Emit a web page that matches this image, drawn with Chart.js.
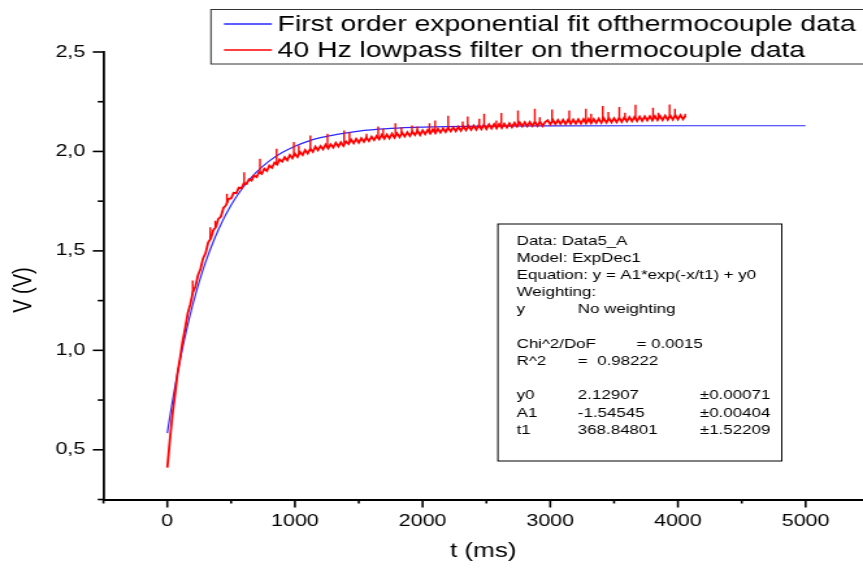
<!DOCTYPE html>
<html><head><meta charset="utf-8">
<script src="https://cdn.jsdelivr.net/npm/chart.js@4.4.1/dist/chart.umd.min.js"></script>
<style>html,body{margin:0;padding:0;background:#fff;overflow:hidden}</style></head>
<body><canvas id="c" width="664" height="569" style="display:block;width:863px;height:569px"></canvas>
<script>
// ---------- data ----------
const seriesNames = ['First order exponential fit ofthermocouple data', '40 Hz lowpass filter on thermocouple data'];
const xTitle = 't (ms)';
const yTitle = 'V (V)';

const xTickValues = [-500, 0, 500, 1000, 1500, 2000, 2500, 3000, 3500, 4000, 4500, 5000];
const xTickLabels = ['', '0', '', '1000', '', '2000', '', '3000', '', '4000', '', '5000'];
const yTickValues = [0.25, 0.5, 0.75, 1.0, 1.25, 1.5, 1.75, 2.0, 2.25, 2.5];
const yTickLabels = ['', '0,5', '', '1,0', '', '1,5', '', '2,0', '', '2,5'];

// fitted curve (blue)
const blueT = [0, 25, 50, 75, 100, 150, 200, 250, 300, 400, 500, 600, 700, 800, 900, 1000, 1100, 1200, 1500, 1750, 2000, 2500, 3000, 4000, 5000];
const blueV = [0.5836, 0.6849, 0.7795, 0.8680, 0.9506, 1.1000, 1.2305, 1.3444, 1.4439, 1.6066, 1.7306, 1.8253, 1.8975, 1.9525, 1.9944, 2.0264, 2.0508, 2.0693, 2.1026, 2.1156, 2.1222, 2.1273, 2.1286, 2.1291, 2.1291];

// filtered measurement (red), one sample every 20 ms starting at 0 ms
const redStepMs = 20;
const redV = [
0.410, 0.548, 0.675, 0.776, 0.884, 0.961, 1.045, 1.111, 1.186, 1.231,
1.291, 1.319, 1.377, 1.409, 1.462, 1.489, 1.542, 1.561, 1.604, 1.619,
1.661, 1.673, 1.716, 1.730, 1.762, 1.764, 1.792, 1.790, 1.818, 1.814,
1.840, 1.836, 1.860, 1.853, 1.879, 1.871, 1.897, 1.887, 1.913, 1.902,
1.929, 1.918, 1.944, 1.934, 1.960, 1.949, 1.971, 1.956, 1.982, 1.966,
1.989, 1.972, 1.997, 1.982, 2.007, 1.990, 2.013, 1.998, 2.024, 2.006,
2.027, 2.011, 2.034, 2.015, 2.036, 2.020, 2.043, 2.025, 2.046, 2.028,
2.050, 2.037, 2.060, 2.041, 2.063, 2.044, 2.066, 2.049, 2.070, 2.052,
2.074, 2.057, 2.078, 2.061, 2.083, 2.064, 2.085, 2.066, 2.089, 2.069,
2.091, 2.072, 2.094, 2.075, 2.096, 2.078, 2.099, 2.082, 2.104, 2.083,
2.106, 2.087, 2.108, 2.090, 2.111, 2.092, 2.114, 2.095, 2.116, 2.098,
2.120, 2.101, 2.121, 2.102, 2.124, 2.104, 2.126, 2.107, 2.128, 2.109,
2.130, 2.110, 2.131, 2.112, 2.134, 2.113, 2.136, 2.116, 2.137, 2.116,
2.138, 2.118, 2.139, 2.120, 2.141, 2.122, 2.144, 2.125, 2.146, 2.126,
2.147, 2.127, 2.148, 2.128, 2.149, 2.128, 2.149, 2.128, 2.148, 2.157,
2.136, 2.158, 2.137, 2.158, 2.138, 2.159, 2.138, 2.160, 2.139, 2.160,
2.140, 2.161, 2.140, 2.162, 2.141, 2.163, 2.142, 2.163, 2.143, 2.165,
2.144, 2.166, 2.145, 2.167, 2.146, 2.167, 2.147, 2.169, 2.149, 2.171,
2.151, 2.173, 2.152, 2.174, 2.153, 2.175, 2.154, 2.176, 2.156, 2.177,
2.156, 2.178, 2.157, 2.179, 2.158, 2.180, 2.159, 2.181, 2.160, 2.182,
2.161, 2.183, 2.162, 2.180
];
const redT = redV.map((_, i) => i * redStepMs);

// short upward spikes on the red trace
const spikeT  = [199, 337, 376, 467, 602, 726, 856, 991, 1030, 1121, 1255, 1385, 1427, 1561, 1652, 1691, 1787, 1834, 1917, 1958, 2054, 2098, 2200, 2314, 2353, 2444, 2482, 2578, 2617, 2747, 2879, 2918, 3014, 3149, 3279, 3320, 3411, 3455, 3541, 3585, 3668, 3805, 3847, 3935, 3977, 4057];
const spikeLo = [1.28, 1.56, 1.62, 1.74, 1.834, 1.89, 1.94, 1.977, 1.985, 2.004, 2.025, 2.042, 2.047, 2.06, 2.07, 2.072, 2.08, 2.083, 2.09, 2.092, 2.1, 2.102, 2.109, 2.116, 2.117, 2.121, 2.123, 2.127, 2.129, 2.135, 2.138, 2.138, 2.146, 2.149, 2.151, 2.152, 2.154, 2.155, 2.158, 2.16, 2.163, 2.167, 2.168, 2.17, 2.171, 2.173];
const spikeHi = [1.351, 1.619, 1.652, 1.787, 1.896, 1.963, 2.013, 2.047, 2.03, 2.08, 2.089, 2.105, 2.097, 2.089, 2.126, 2.114, 2.142, 2.122, 2.13, 2.126, 2.142, 2.156, 2.18, 2.151, 2.176, 2.164, 2.189, 2.156, 2.193, 2.206, 2.215, 2.172, 2.211, 2.206, 2.215, 2.189, 2.228, 2.198, 2.224, 2.194, 2.235, 2.22, 2.194, 2.236, 2.215, 2.189];

// fit report text
const fitRows = [
  ['Data: Data5_A', '', ''],
  ['Model: ExpDec1', '', ''],
  ['Equation: y = A1*exp(-x/t1) + y0', '', ''],
  ['Weighting:', '', ''],
  ['y', 'No weighting', ''],
  ['', '', ''],
  ['Chi^2/DoF', '', '= 0.0015'],
  ['R^2', '=  0.98222', ''],
  ['', '', ''],
  ['y0', '2.12907', '\u00B10.00071'],
  ['A1', '-1.54545', '\u00B10.00404'],
  ['t1', '368.84801', '\u00B11.52209']
];

// ---------- styling ----------
const FONT = "'Liberation Sans', Arial, sans-serif";
const BLUE = 'rgb(40,40,255)';
const RED = 'rgb(255,0,0)';

const spikeData = [];
spikeT.forEach((t, i) => {
  spikeData.push({x: t, y: spikeLo[i]}, {x: t, y: spikeHi[i]}, {x: t, y: null});
});

const overlay = {
  id: 'overlay',
  afterDraw(chart) {
    const ctx = chart.ctx;
    const xs = chart.scales.x, ys = chart.scales.y;
    ctx.save();
    // tick marks (major long, minor short)
    ctx.strokeStyle = '#000';
    ctx.lineWidth = 1.6;
    xTickValues.forEach((v, i) => {
      const px = xs.getPixelForValue(v);
      const len = xTickLabels[i] ? 8 : 4;
      ctx.beginPath(); ctx.moveTo(px, xs.top); ctx.lineTo(px, xs.top + len); ctx.stroke();
    });
    yTickValues.forEach((v, i) => {
      const py = ys.getPixelForValue(v);
      const len = yTickLabels[i] ? 8.2 : 4.4;
      ctx.beginPath(); ctx.moveTo(ys.right, py); ctx.lineTo(ys.right - len, py); ctx.stroke();
    });
    // y axis title
    ctx.fillStyle = '#000';
    ctx.font = '20px ' + FONT;
    ctx.textAlign = 'center'; ctx.textBaseline = 'middle';
    ctx.translate(18.5, 290); ctx.rotate(-Math.PI / 2);
    ctx.fillText(yTitle, 0, 0);
    ctx.setTransform(1, 0, 0, 1, 0, 0);

    // legend box
    const lx = 162.3, ly = 9.5, lh = 54.5;
    ctx.fillStyle = '#fff';
    ctx.fillRect(lx, ly, chart.width - lx + 5, lh);
    ctx.strokeStyle = '#333'; ctx.lineWidth = 1;
    ctx.strokeRect(lx, ly, chart.width - lx + 5, lh);
    const rowsY = [24, 50];
    chart.data.datasets.slice(0, 2).forEach((ds, i) => {
      ctx.strokeStyle = ds.borderColor; ctx.lineWidth = 1.5;
      ctx.beginPath(); ctx.moveTo(172.3, rowsY[i]); ctx.lineTo(209.2, rowsY[i]); ctx.stroke();
      ctx.fillStyle = '#000';
      ctx.font = '21.8px ' + FONT;
      ctx.textAlign = 'left'; ctx.textBaseline = 'middle';
      ctx.fillText(ds.label, 213.6, rowsY[i] + 1);
    });

    // fit report box
    ctx.fillStyle = '#fff';
    ctx.fillRect(383.1, 224, 218.4, 237);
    ctx.strokeStyle = '#000'; ctx.lineWidth = 1;
    ctx.strokeRect(383.1, 224, 218.4, 237);
    ctx.fillStyle = '#000';
    ctx.font = '13px ' + FONT;
    ctx.textAlign = 'left'; ctx.textBaseline = 'middle';
    const colX = [397.5, 444.6, 538.5];
    fitRows.forEach((row, r) => {
      const y = 241 + r * 17.2;
      if (row[0]) ctx.fillText(row[0], colX[0], y);
      if (row[1]) ctx.fillText(row[1], colX[1], y);
      if (row[2]) ctx.fillText(row[2], r === 6 ? 489.7 : colX[2], y);
    });
    ctx.restore();
  }
};

new Chart(document.getElementById('c'), {
  type: 'line',
  data: {
    datasets: [
      { label: seriesNames[0], data: blueT.map((t, i) => ({x: t, y: blueV[i]})),
        borderColor: BLUE, backgroundColor: BLUE, borderWidth: 1.2, pointRadius: 0,
        cubicInterpolationMode: 'monotone', order: 2 },
      { label: seriesNames[1], data: redT.map((t, i) => ({x: t, y: redV[i]})),
        borderColor: RED, backgroundColor: RED, borderWidth: 1.8, pointRadius: 0,
        tension: 0, order: 1 },
      { label: 'spikes', data: spikeData, borderColor: RED, backgroundColor: RED,
        borderWidth: 1.4, pointRadius: 0, spanGaps: false, order: 0 }
    ]
  },
  options: {
    responsive: false, animation: false, devicePixelRatio: 1,
    layout: { padding: { top: 52, right: 0, left: 0, bottom: 0 } },
    plugins: { legend: { display: false }, tooltip: { enabled: false } },
    scales: {
      x: {
        type: 'linear', min: -500, max: 5450,
        afterBuildTicks: s => { s.ticks = xTickValues.map(v => ({value: v})); },
        afterFit: s => { s.height = 69.5; },
        grid: { display: false, drawTicks: true, tickLength: 8 },
        border: { display: true, color: '#000', width: 2 },
        ticks: { autoSkip: false, maxRotation: 0, padding: 4, color: '#000',
                 font: { family: FONT, size: 16.5 }, callback: (v, i) => xTickLabels[i] },
        title: { display: true, text: xTitle, color: '#000', font: { family: FONT, size: 20 },
                 padding: { top: 0, bottom: 6 } }
      },
      y: {
        type: 'linear', min: 0.25, max: 2.5,
        afterBuildTicks: s => { s.ticks = yTickValues.map(v => ({value: v})); },
        afterFit: s => { s.width = 79.6; },
        grid: { display: false, drawTicks: true, tickLength: 8 },
        border: { display: true, color: '#000', width: 1.8 },
        ticks: { autoSkip: false, padding: 6, color: '#000',
                 font: { family: FONT, size: 16.5 }, callback: (v, i) => yTickLabels[i] }
      }
    }
  },
  plugins: [overlay]
});
</script></body></html>
